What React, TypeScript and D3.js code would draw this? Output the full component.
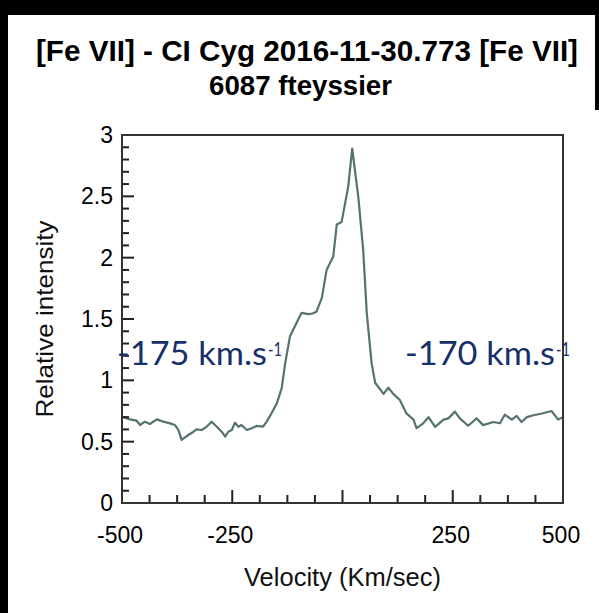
import React from 'react'
import * as d3 from 'd3'

// spectrum (velocity km/s, relative intensity)
const velocity = [
  -500, -482, -467, -459, -448, -437, -421, -406, -391, -380, -372, -365, -353, -338, -331, -319,
  -308, -297, -285, -274, -266, -259, -251, -244, -236, -229, -217, -206, -195, -180, -172, -161,
  -149, -138, -130, -119, -104, -93, -77, -68, -59, -47, -36, -21, -13, -2, 13, 22, 36, 47, 55, 66,
  74, 93, 104, 115, 130, 145, 161, 168, 183, 195, 210, 229, 240, 255, 266, 285, 304, 319, 342, 357,
  368, 384, 395, 406, 418, 433, 452, 474, 489, 500,
]
const intensity = [
  0.704, 0.682, 0.671, 0.636, 0.663, 0.644, 0.682, 0.663, 0.649, 0.636, 0.595, 0.514, 0.546, 0.581, 0.6, 0.595,
  0.622, 0.663, 0.622, 0.581, 0.541, 0.581, 0.595, 0.655, 0.622, 0.636, 0.595, 0.609, 0.628, 0.622, 0.663, 0.731,
  0.812, 0.935, 1.139, 1.36, 1.47, 1.55, 1.54, 1.545, 1.56, 1.67, 1.9, 2.01, 2.27, 2.29, 2.58, 2.89, 2.49, 2.06, 1.55, 1.14,
  0.98, 0.89, 0.94, 0.89, 0.84, 0.73, 0.68, 0.61, 0.65, 0.7, 0.62, 0.68, 0.69, 0.745, 0.69, 0.63, 0.69, 0.635, 0.66, 0.65,
  0.72, 0.68, 0.71, 0.66, 0.7, 0.715, 0.73, 0.75, 0.68, 0.7,
]

const xMajor = [-500, -250, 0, 250, 500]
const xLabels = ['-500', '-250', '', '250', '500']
const xMinor = [-437.5, -375, -312.5, -187.5, -125, -62.5, 62.5, 125, 187.5, 312.5, 375, 437.5]
const yMajor = [0, 0.5, 1, 1.5, 2, 2.5, 3]
const yLabels = ['0', '0.5', '1', '1.5', '2', '2.5', '3']
const yMinor = [0.1, 0.2, 0.3, 0.4, 0.6, 0.7, 0.8, 0.9, 1.1, 1.2, 1.3, 1.4, 1.6, 1.7, 1.8, 1.9, 2.1, 2.2, 2.3, 2.4, 2.6, 2.7, 2.8, 2.9]

const titleLines = ['[Fe VII] - CI Cyg  2016-11-30.773  [Fe VII]', '6087  fteyssier']
const notes = [
  { text: '-175 km.s', sup: '-1', v: -500 },
  { text: '-170 km.s', sup: '-1', v: 153 },
]

const W = 599
const H = 613
const box = { left: 122, right: 563, top: 135, bottom: 503 }
const sans = '"Liberation Sans", Arial, sans-serif'

function App() {
  const x = d3.scaleLinear().domain([-500, 500]).range([box.left, box.right])
  const y = d3.scaleLinear().domain([0, 3]).range([box.bottom, box.top])

  const line = d3
    .line<number>()
    .x((d, i) => x(velocity[i]))
    .y((d) => y(d))

  return (
    <svg
      width={W}
      height={H}
      style={{ position: 'absolute', left: 0, top: 0, background: '#fff' }}
    >
      <rect x={0} y={0} width={W} height={H} fill="#fff" />
      <rect x={0} y={0} width={W} height={15} fill="#000" />
      <rect x={0} y={0} width={8} height={H} fill="#000" />
      <rect x={595} y={0} width={4} height={110} fill="#000" />

      {/* title */}
      <g style={{ fontFamily: sans, fontWeight: 'bold', whiteSpace: 'pre' }} fill="#000">
        <text x={36} y={61} fontSize={30} textLength={542} lengthAdjust="spacingAndGlyphs">
          {titleLines[0]}
        </text>
        <text x={209} y={95} fontSize={28} textLength={183} lengthAdjust="spacingAndGlyphs">
          {titleLines[1]}
        </text>
      </g>

      {/* spectrum */}
      <path
        d={line(intensity) || ''}
        fill="none"
        stroke="#557370"
        strokeWidth={2.2}
        strokeLinejoin="round"
      />

      {/* inward ticks */}
      {xMinor.map((v) => (
        <rect key={'xm' + v} x={x(v) - 1} y={box.bottom - 8} width={2} height={8} fill="#222" />
      ))}
      {xMajor.map((v) => (
        <rect key={'xM' + v} x={x(v) - 1} y={box.bottom - 13} width={2} height={13} fill="#222" />
      ))}
      {yMinor.map((v) => (
        <rect key={'ym' + v} x={box.left} y={y(v) - 1} width={7} height={2} fill="#222" />
      ))}
      {yMajor.map((v) => (
        <rect key={'yM' + v} x={box.left} y={y(v) - 1} width={12} height={2} fill="#222" />
      ))}

      {/* tick labels */}
      <g style={{ fontFamily: sans }} fill="#000" fontSize={23}>
        {xMajor.map((v, i) => (
          <text key={'xl' + v} x={x(v) - 2} y={543} textAnchor="middle">
            {xLabels[i]}
          </text>
        ))}
        {yMajor.map((v, i) => (
          <text key={'yl' + v} x={113} y={y(v) + 8} textAnchor="end">
            {yLabels[i]}
          </text>
        ))}
      </g>

      <rect
        x={box.left}
        y={box.top}
        width={box.right - box.left}
        height={box.bottom - box.top}
        fill="none"
        stroke="#333"
        strokeWidth={2}
      />

      {/* axis titles */}
      <g style={{ fontFamily: sans }} fill="#111">
        <text
          x={(box.left + box.right) / 2}
          y={586}
          fontSize={26}
          textAnchor="middle"
          textLength={197}
          lengthAdjust="spacingAndGlyphs"
        >
          Velocity (Km/sec)
        </text>
        <text
          transform={`translate(53,${(box.top + box.bottom) / 2}) rotate(-90)`}
          fontSize={24}
          textAnchor="middle"
          textLength={197}
          lengthAdjust="spacingAndGlyphs"
        >
          Relative intensity
        </text>
      </g>

      {/* annotations */}
      <g style={{ fontFamily: 'Lato, "Open Sans", sans-serif' }} fill="#17306a">
        {notes.map((n) => {
          const x0 = x(n.v) - 5
          return (
            <g key={n.text}>
              <text x={x0} y={365} fontSize={32} textLength={150} lengthAdjust="spacingAndGlyphs">
                {n.text}
              </text>
              <text x={x0 + 151} y={356} fontSize={20} textLength={14} lengthAdjust="spacingAndGlyphs">
                {n.sup}
              </text>
            </g>
          )
        })}
      </g>
    </svg>
  )
}

export default App
